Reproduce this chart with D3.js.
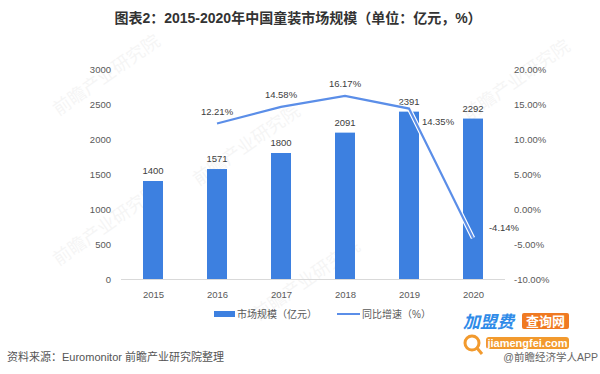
<!DOCTYPE html>
<html>
<head>
<meta charset="utf-8">
<script src="https://cdn.jsdelivr.net/npm/d3@7"></script>
<style>
  body { margin: 0; background: #fff; }
  svg { display: block; font-family: "Liberation Sans", "Noto Sans CJK SC", sans-serif; }
  .tick text { fill: #595959; font-size: 9.5px; }
  .lbl { fill: #404040; font-size: 9.5px; }
</style>
</head>
<body>
<svg class="canvas" width="600" height="374"></svg>
<script>
'use strict';
const years = ['2015', '2016', '2017', '2018', '2019', '2020'],
  marketSize = [1400, 1571, 1800, 2091, 2391, 2292],
  growth = [null, 12.21, 14.58, 16.17, 14.35, -4.14],
  leftTicks = [0, 500, 1000, 1500, 2000, 2500, 3000],
  rightTicks = [-10, -5, 0, 5, 10, 15, 20];

const svg = d3.select('.canvas'),
  barColor = '#3d80e0',
  lineColor = '#5b8ee8',
  plot = { left: 121, right: 505, top: 69, bottom: 279 };

const x = d3.scalePoint(years, [plot.left, plot.right]).padding(0.5),
  yL = d3.scaleLinear([0, 3000], [plot.bottom, plot.top]),
  yR = d3.scaleLinear([-10, 20], [plot.bottom, plot.top]),
  barW = 20;

// faint watermarks
const wm = [[110, 80], [520, 85], [250, 150], [110, 230], [310, 285]];
svg.selectAll('.wm').data(wm).enter().append('text')
  .attr('class', 'wm')
  .attr('transform', d => `translate(${d[0]},${d[1]}) rotate(-35)`)
  .attr('text-anchor', 'middle')
  .style('font-size', '18px')
  .style('fill', '#000')
  .style('opacity', 0.035)
  .text('前瞻产业研究院');

// title
svg.append('text')
  .attr('x', 298).attr('y', 23)
  .attr('text-anchor', 'middle')
  .style('font-size', '14px').style('font-weight', 'bold').style('fill', '#333')
  .text('图表2：2015-2020年中国童装市场规模（单位：亿元，%）');

// axes
svg.append('g')
  .attr('transform', `translate(${plot.left - 8},0)`)
  .call(d3.axisLeft(yL).tickValues(leftTicks).tickSize(0).tickPadding(2).tickFormat(d3.format('d')))
  .call(g => g.select('.domain').remove());

svg.append('g')
  .attr('transform', `translate(${plot.right + 9},0)`)
  .call(d3.axisRight(yR).tickValues(rightTicks).tickSize(0).tickPadding(0)
    .tickFormat(d => d.toFixed(2) + '%'))
  .call(g => g.select('.domain').remove());

svg.append('line')
  .attr('x1', plot.left).attr('x2', plot.right)
  .attr('y1', yL(0) + 0.5).attr('y2', yL(0) + 0.5)
  .style('stroke', '#d9d9d9');

svg.append('g')
  .attr('transform', `translate(0,${plot.bottom + 6})`)
  .call(d3.axisBottom(x).tickSize(0).tickPadding(6))
  .call(g => g.select('.domain').remove());

// bars
svg.selectAll('.bar').data(marketSize).enter().append('rect')
  .attr('class', 'bar')
  .attr('x', (d, i) => x(years[i]) - barW / 2)
  .attr('y', d => yL(d))
  .attr('width', barW)
  .attr('height', d => yL(0) - yL(d))
  .style('fill', barColor);

svg.selectAll('.barlbl').data(marketSize).enter().append('text')
  .attr('class', 'lbl')
  .attr('x', (d, i) => x(years[i]))
  .attr('y', d => yL(d) - 7)
  .attr('text-anchor', 'middle')
  .text(d => d);

// growth line
const pts = growth.map((g, i) => ({ year: years[i], g })).filter(d => d.g !== null);
const line = d3.line().x(d => x(d.year)).y(d => yR(d.g));
svg.append('path').datum(pts)
  .attr('d', line)
  .style('fill', 'none').style('stroke', '#fff').style('stroke-width', 4.5);
svg.append('path').datum(pts)
  .attr('d', line)
  .style('fill', 'none').style('stroke', lineColor).style('stroke-width', 2.2);

// label placement: above by default, last two shifted to the right
const off = { '2019': [29, 16], '2020': [31, -7] };
svg.selectAll('.glbl').data(pts).enter().append('text')
  .attr('class', 'lbl')
  .attr('x', d => x(d.year) + (off[d.year] ? off[d.year][0] : 0))
  .attr('y', d => yR(d.g) + (off[d.year] ? off[d.year][1] : -9))
  .attr('text-anchor', 'middle')
  .text(d => d.g.toFixed(2) + '%');

// legend
const lg = svg.append('g').style('font-size', '10px').style('fill', '#595959');
lg.append('rect').attr('x', 214).attr('y', 311).attr('width', 21).attr('height', 6).style('fill', barColor);
lg.append('text').attr('x', 237).attr('y', 318).text('市场规模（亿元）');
lg.append('line').attr('x1', 337).attr('x2', 360).attr('y1', 314).attr('y2', 314)
  .style('stroke', lineColor).style('stroke-width', 2);
lg.append('text').attr('x', 362).attr('y', 318).text('同比增速（%）');

// source
svg.append('text')
  .attr('x', 7).attr('y', 361)
  .style('font-size', '11px').style('fill', '#555')
  .text('资料来源：Euromonitor 前瞻产业研究院整理');

// bottom-right logo
const logo = svg.append('g');
logo.append('text').attr('x', 463).attr('y', 328)
  .style('font-size', '17px').style('font-weight', 'bold').style('font-style', 'italic')
  .style('fill', '#2f8be8').text('加盟费');
logo.append('rect').attr('x', 522).attr('y', 313).attr('width', 47).attr('height', 16).attr('rx', 2)
  .style('fill', '#f07a22');
logo.append('text').attr('x', 545.5).attr('y', 326).attr('text-anchor', 'middle')
  .style('font-size', '13px').style('font-weight', 'bold').style('fill', '#fff').text('查询网');
logo.append('rect').attr('x', 486).attr('y', 337).attr('width', 83).attr('height', 12).attr('rx', 3)
  .style('fill', '#f29a2e');
logo.append('text').attr('x', 527.5).attr('y', 347).attr('text-anchor', 'middle')
  .style('font-size', '11px').style('font-weight', 'bold').style('fill', '#fff').text('jiamengfei.com');
logo.append('circle').attr('cx', 472).attr('cy', 343).attr('r', 7)
  .style('fill', '#fff').style('stroke', '#f29a2e').style('stroke-width', 3);
logo.append('line').attr('x1', 477).attr('y1', 348).attr('x2', 482).attr('y2', 354)
  .style('stroke', '#f29a2e').style('stroke-width', 3);
logo.append('text').attr('x', 598).attr('y', 361).attr('text-anchor', 'end')
  .style('font-size', '10.5px').style('fill', '#666').text('@前瞻经济学人APP');
</script>
</body>
</html>
